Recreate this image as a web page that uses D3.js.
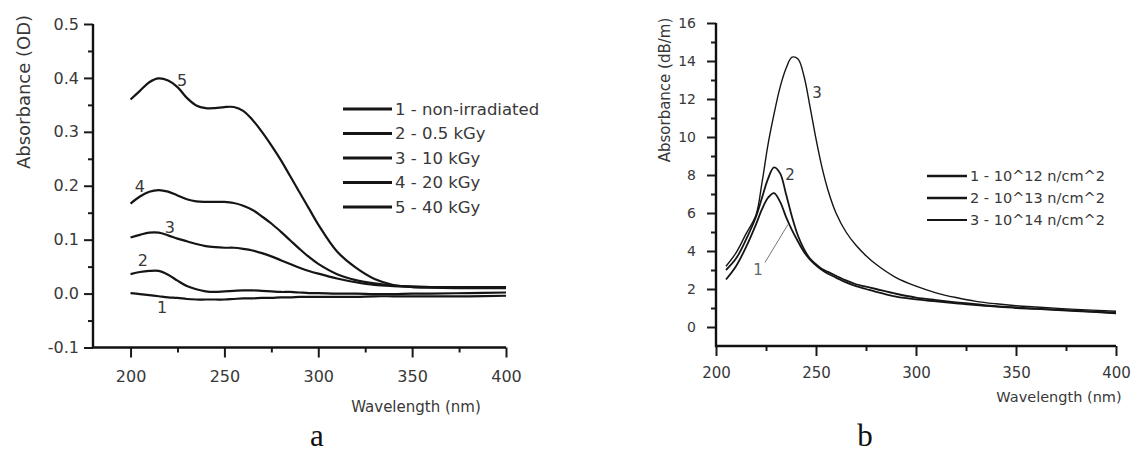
<!DOCTYPE html>
<html>
<head>
<meta charset="utf-8">
<title>Absorbance spectra</title>
<script src="https://d3js.org/d3.v7.min.js"></script>
<style>
body { margin: 0; background: #fff; }
svg text { font-family: 'DejaVu Sans', sans-serif; fill: #383838; }
.tick line { stroke: #1a1a1a; stroke-width: 2px; }
.axis-line { stroke: #111; stroke-width: 2.4px; fill: none; }
.curve { fill: none; stroke: #151515; stroke-linejoin: round; }
.panel-letter { font-family: 'Liberation Serif', serif; font-size: 31px; fill: #111; }
</style>
</head>
<body>
<svg id="chart" width="1133" height="455"></svg>
<script>

// ---- panel a : gamma irradiation ----
var wlA = [200,205,210,215,220,225,230,235,240,245,250,255,260,265,270,275,280,285,290,295,300,310,320,330,340,350,360,380,400];
var a1 = [0.001,-0.001,-0.003,-0.005,-0.007,-0.008,-0.010,-0.011,-0.011,-0.011,-0.011,-0.010,-0.009,-0.009,-0.008,-0.008,-0.007,-0.007,-0.006,-0.006,-0.006,-0.006,-0.006,-0.005,-0.005,-0.005,-0.005,-0.005,-0.004];
var a2 = [0.036,0.040,0.042,0.042,0.035,0.024,0.014,0.008,0.004,0.003,0.004,0.005,0.006,0.006,0.005,0.004,0.003,0.003,0.002,0.001,0.001,0.000,0.000,-0.001,-0.001,0.000,0.000,0.001,0.002];
var a3 = [0.104,0.109,0.113,0.113,0.108,0.102,0.097,0.092,0.088,0.086,0.085,0.085,0.083,0.080,0.075,0.069,0.062,0.055,0.048,0.042,0.037,0.028,0.021,0.016,0.014,0.013,0.012,0.011,0.011];
var a4 = [0.167,0.180,0.189,0.192,0.189,0.182,0.175,0.171,0.170,0.170,0.170,0.168,0.163,0.155,0.143,0.130,0.115,0.099,0.083,0.068,0.055,0.036,0.025,0.019,0.015,0.013,0.012,0.012,0.012];
var a5 = [0.360,0.376,0.392,0.399,0.395,0.383,0.363,0.349,0.344,0.344,0.346,0.346,0.339,0.322,0.300,0.275,0.248,0.218,0.188,0.158,0.128,0.078,0.048,0.027,0.016,0.012,0.011,0.010,0.010];
var legendA = ["1 - non-irradiated", "2 - 0.5 kGy", "3 - 10 kGy", "4 - 20 kGy", "5 - 40 kGy"];
var tagA = [["1", 216.8, -0.025], ["2", 206.6, 0.062], ["3", 221, 0.122], ["4", 205, 0.198], ["5", 227.4, 0.396]];
var yTicksA = [-0.1, 0, 0.1, 0.2, 0.3, 0.4, 0.5];
var yMinorA = [-0.05, 0.05, 0.15, 0.25, 0.35, 0.45];

// ---- panel b : neutron fluence ----
var wlB = [205,210,215,220,223,226,229,232,235,238,241,244,247,250,253,256,260,265,270,275,280,290,300,310,320,330,340,350,360,380,400];
var b1 = [2.5,3.2,4.2,5.4,6.2,6.8,7.05,6.6,5.8,5.1,4.5,3.95,3.55,3.25,3.0,2.8,2.6,2.35,2.15,2.0,1.85,1.6,1.45,1.35,1.25,1.15,1.07,1.0,0.95,0.84,0.72];
var b2 = [3.0,3.6,4.6,5.8,6.8,7.8,8.4,8.1,7.0,5.8,4.8,4.1,3.6,3.3,3.05,2.9,2.7,2.45,2.25,2.12,2.0,1.75,1.55,1.42,1.3,1.2,1.1,1.03,0.97,0.86,0.75];
var b3 = [3.2,3.9,4.9,5.9,7.6,9.6,11.2,12.6,13.6,14.2,14.1,13.2,11.6,9.9,8.4,7.2,6.0,5.0,4.3,3.75,3.3,2.6,2.15,1.8,1.55,1.35,1.22,1.12,1.05,0.93,0.83];
var legendB = ["1 - 10^12 n/cm^2", "2 - 10^13 n/cm^2", "3 - 10^14 n/cm^2"];
var tagB = [["2", 237, 8.0], ["3", 250.5, 12.3]];
var yTicksB = [0, 2, 4, 6, 8, 10, 12, 14, 16];
var yMinorB = [1, 3, 5, 7, 9, 11, 13, 15];

var xTicks = [200, 250, 300, 350, 400];
var xMinor = [225, 275, 325, 375];

var svg = d3.select("#chart");

function drawPanel(opt) {
  var g = svg.append("g");
  var x = d3.scaleLinear().domain(opt.xDomain).range(opt.xRange);
  var y = d3.scaleLinear().domain(opt.yDomain).range(opt.yRange);

  // minor ticks, no labels
  g.append("g").attr("transform", "translate(0," + opt.yRange[0] + ")")
    .call(d3.axisBottom(x).tickValues(xMinor).tickSize(5).tickSizeOuter(0).tickFormat(""))
    .select(".domain").remove();
  g.append("g").attr("transform", "translate(" + opt.xRange[0] + ",0)")
    .call(d3.axisLeft(y).tickValues(opt.yMinor).tickSize(5).tickSizeOuter(0).tickFormat(""))
    .select(".domain").remove();

  var xa = g.append("g").attr("transform", "translate(0," + opt.yRange[0] + ")")
    .call(d3.axisBottom(x).tickValues(xTicks).tickSize(10).tickSizeOuter(0).tickPadding(opt.xPad));
  xa.select(".domain").remove();
  xa.selectAll("text").style("font-size", opt.xTickFont + "px");

  var ya = g.append("g").attr("transform", "translate(" + opt.xRange[0] + ",0)")
    .call(d3.axisLeft(y).tickValues(opt.yTicks).tickSize(9).tickSizeOuter(0).tickPadding(opt.yPad).tickFormat(opt.fmt));
  ya.select(".domain").remove();
  ya.selectAll("text").style("font-size", opt.yTickFont + "px");

  // the L-shaped frame: left and bottom axis lines
  g.append("path")
    .attr("class", "axis-line")
    .attr("d", "M" + opt.xRange[0] + "," + opt.yRange[1] +
               "V" + opt.yRange[0] + "H" + opt.xRange[1]);

  var line = d3.line()
    .x(function(d) { return x(d[0]); })
    .y(function(d) { return y(d[1]); })
    .curve(d3.curveCatmullRom.alpha(0.5));

  opt.series.forEach(function(s, i) {
    g.append("path")
      .datum(opt.wl.map(function(w, j) { return [w, s[j]]; }))
      .attr("class", "curve")
      .attr("stroke-width", opt.widths[i])
      .attr("d", line);
  });

  opt.tags.forEach(function(t) {
    g.append("text")
      .attr("x", x(t[1])).attr("y", y(t[2]))
      .attr("text-anchor", "middle").attr("dominant-baseline", "central")
      .style("font-size", opt.tagFont + "px")
      .text(t[0]);
  });

  // legend
  opt.legend.forEach(function(lab, i) {
    var ly = opt.legY + i * opt.legStep;
    g.append("line")
      .attr("x1", opt.legX[0]).attr("x2", opt.legX[1])
      .attr("y1", ly).attr("y2", ly)
      .attr("stroke", "#151515").attr("stroke-width", opt.widths[i] + 0.6);
    g.append("text")
      .attr("x", opt.legX[1] + 3).attr("y", ly)
      .attr("dominant-baseline", "central")
      .style("font-size", opt.legFont + "px")
      .text(lab);
  });

  // axis titles
  g.append("text")
    .attr("x", opt.xTitle[0]).attr("y", opt.xTitle[1])
    .attr("text-anchor", "middle")
    .style("font-size", opt.titleFont + "px")
    .text("Wavelength (nm)");
  g.append("text")
    .attr("transform", "translate(" + opt.yTitle[0] + "," + opt.yTitle[1] + ") rotate(-90)")
    .attr("text-anchor", "middle").attr("dominant-baseline", "central")
    .style("font-size", opt.yTitleFont + "px")
    .text(opt.yLabel);

  g.append("text").attr("class", "panel-letter")
    .attr("x", opt.letter[1]).attr("y", 446)
    .attr("text-anchor", "middle")
    .text(opt.letter[0]);

  return { g: g, x: x, y: y };
}

drawPanel({
  xDomain: [180, 400], xRange: [93, 506],
  yDomain: [-0.1, 0.5], yRange: [347.5, 24],
  yTicks: yTicksA, yMinor: yMinorA,
  fmt: function(d) { return d.toFixed(1); },
  wl: wlA, series: [a1, a2, a3, a4, a5], widths: [2.2, 2.2, 2.2, 2.2, 2.2],
  tags: tagA, tagFont: 16,
  legend: legendA, legX: [343, 392], legY: 109, legStep: 24.5, legFont: 16.5,
  xTickFont: 16, yTickFont: 16, xPad: 13, yPad: 5,
  titleFont: 15, xTitle: [416, 412],
  yLabel: "Absorbance (OD)", yTitleFont: 18, yTitle: [23, 92],
  letter: ["a", 317]
});

var pb = drawPanel({
  xDomain: [200, 400], xRange: [716, 1116],
  yDomain: [-1, 16], yRange: [346, 23],
  yTicks: yTicksB, yMinor: yMinorB,
  fmt: function(d) { return d; },
  wl: wlB, series: [b1, b2, b3], widths: [1.8, 1.8, 1.4],
  tags: tagB, tagFont: 15,
  legend: legendB, legX: [927, 967], legY: 176, legStep: 22, legFont: 14.5,
  xTickFont: 15, yTickFont: 14, xPad: 11, yPad: 11,
  titleFont: 14.5, xTitle: [1059, 402],
  yLabel: "Absorbance (dB/m)", yTitleFont: 15, yTitle: [665, 90],
  letter: ["b", 865]
});

// leader line for curve 1 in panel b
pb.g.append("line")
  .attr("x1", pb.x(224.5)).attr("y1", pb.y(3.4))
  .attr("x2", pb.x(236)).attr("y2", pb.y(5.4))
  .attr("stroke", "#777").attr("stroke-width", 1);
pb.g.append("text")
  .attr("x", pb.x(221)).attr("y", pb.y(3.0))
  .attr("text-anchor", "middle").attr("dominant-baseline", "central")
  .style("font-size", "15px").style("fill", "#666")
  .text("1");

</script>
</body>
</html>
